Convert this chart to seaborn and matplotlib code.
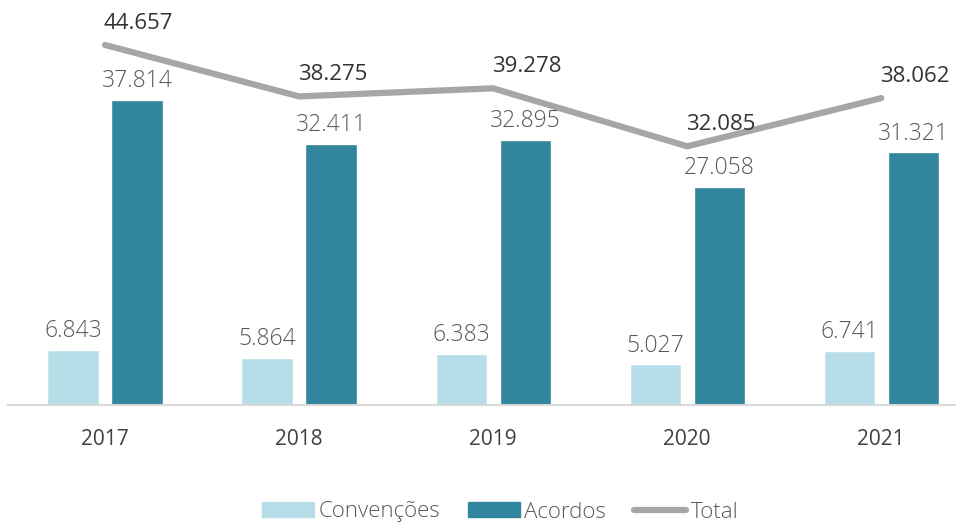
import numpy as np
import pandas as pd
import seaborn as sns
import matplotlib.pyplot as plt
from matplotlib.patches import Patch
from matplotlib.lines import Line2D

years = ['2017', '2018', '2019', '2020', '2021']
convencoes = [6.843, 5.864, 6.383, 5.027, 6.741]
acordos = [37.814, 32.411, 32.895, 27.058, 31.321]
total = [44.657, 38.275, 39.278, 32.085, 38.062]

c_light = '#B7DEE8'
c_dark = '#31859C'
c_line = '#A6A6A6'

sns.set_style('white')
plt.rcParams['font.family'] = ['Open Sans', 'DejaVu Sans']

df = pd.DataFrame({
    'ano': years * 2,
    'valor': convencoes + acordos,
    'tipo': ['Convenções'] * 5 + ['Acordos'] * 5,
})

fig = plt.figure(figsize=(9.64, 5.25), dpi=100)
ax = fig.add_axes([8 / 964, 120 / 525, 947 / 964, 387 / 525])

sns.barplot(data=df, x='ano', y='valor', hue='tipo', palette=[c_light, c_dark],
            width=0.66, gap=0.2, ax=ax, legend=False, saturation=1)

for cont in ax.containers:
    ax.bar_label(cont, labels=[f'{v:.3f}' for v in cont.datavalues],
                 padding=5, fontsize=16.5, color='#595959', fontweight='light')

sns.lineplot(x=np.arange(len(years)), y=total, color=c_line, linewidth=4.5,
             ax=ax, solid_capstyle='round')
for i, v in enumerate(total):
    ax.annotate(f'{v:.3f}', (i, v), xytext=(24, 8), textcoords='offset points',
                ha='center', va='bottom', fontsize=16, color='#333333')

ax.set_xlim(-0.5, 4.38)
ax.set_ylim(0, 48)
ax.set_xlabel('')
ax.set_ylabel('')
ax.set_yticks([])
ax.tick_params(axis='x', length=0, labelsize=15, labelcolor='#404040', pad=17)
for s in ['top', 'right', 'left']:
    ax.spines[s].set_visible(False)
ax.spines['bottom'].set_color('#D9D9D9')
ax.spines['bottom'].set_linewidth(1.5)

handles = [Patch(color=c_light, label='Convenções'),
           Patch(color=c_dark, label='Acordos'),
           Line2D([], [], color=c_line, linewidth=4.5, solid_capstyle='round', label='Total')]
leg = fig.legend(handles=handles, loc='center', bbox_to_anchor=(500 / 964, 13 / 525),
                 ncol=3, frameon=False, fontsize=16, handlelength=2.35,
                 handleheight=0.63, handletextpad=0.2, columnspacing=1.25)
for t in leg.get_texts():
    t.set_color('#595959')
    t.set_fontweight('light')

fig.savefig('out.png', dpi=100)
